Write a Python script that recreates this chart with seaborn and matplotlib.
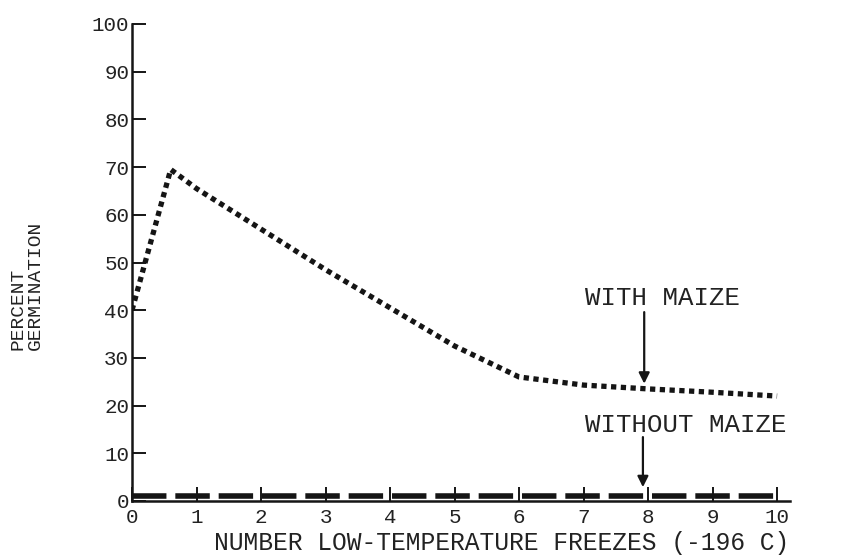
import matplotlib
matplotlib.use("Agg")
import matplotlib.pyplot as plt
import seaborn as sns
import pandas as pd

# Germination after repeated freezes in liquid nitrogen
freezes_with = [0, 0.6, 1, 2, 3, 4, 5, 6, 7, 8, 9, 10]
germ_with = [40, 69.5, 65.5, 57, 48.5, 40.5, 32.5, 26, 24.3, 23.5, 22.8, 22]

freezes_without = [0, 1, 2, 3, 4, 5, 6, 7, 8, 9, 10]
germ_without = [1, 1, 1, 1, 1, 1, 1, 1, 1, 1, 1]

x_ticks = list(range(0, 11))
y_ticks = list(range(0, 101, 10))

df_with = pd.DataFrame({"freezes": freezes_with, "germ": germ_with})
df_without = pd.DataFrame({"freezes": freezes_without, "germ": germ_without})

sns.set_style("ticks")
plt.rcParams["font.family"] = ["Liberation Mono", "DejaVu Sans Mono"]

fig = plt.figure(figsize=(8.55, 5.57), dpi=100)
ax = fig.add_axes([132 / 855, 1 - 501 / 557, (790 - 132) / 855, (501 - 24) / 557])

ink = "#151515"
text_ink = "#222222"
sns.lineplot(data=df_with, x="freezes", y="germ", ax=ax, color=ink,
             linewidth=3.8, linestyle=(0, (1.0, 0.85)), dash_capstyle="butt",
             estimator=None, sort=False)
sns.lineplot(data=df_without, x="freezes", y="germ", ax=ax, color=ink,
             linewidth=4.0, linestyle=(0, (6.2, 1.6)), dash_capstyle="butt",
             estimator=None, sort=False)

ax.set_xlim(0, 10.2)
ax.set_ylim(0, 100)
ax.set_xticks(x_ticks)
ax.set_yticks(y_ticks)
ax.set_xticklabels([str(v) for v in x_ticks])
ax.set_yticklabels([str(v) for v in y_ticks])
ax.tick_params(axis="both", direction="in", length=10, width=1.4, colors=ink,
               labelsize=15, labelcolor=text_ink)
ax.tick_params(axis="y", pad=2)
ax.tick_params(axis="x", pad=5)

for side in ("top", "right"):
    ax.spines[side].set_visible(False)
for side in ("left", "bottom"):
    ax.spines[side].set_linewidth(1.8)
    ax.spines[side].set_color(ink)

ax.set_xlabel("NUMBER LOW-TEMPERATURE FREEZES (-196 C)", fontsize=17.7,
              color=text_ink)
ax.xaxis.set_label_coords((502 - 132) / (790 - 132), -(531 - 501) / (501 - 24))
ax.set_ylabel("")

fig.text(27 / 855, 1 - 350 / 557, "PERCENT\nGERMINATION", rotation=90,
         ha="center", va="bottom", multialignment="left", fontsize=14,
         color=text_ink, linespacing=1.0)

ax.text(7.02, 42.6, "WITH MAIZE", ha="left", va="center", fontsize=18.5,
        color=text_ink)
ax.annotate("", xy=(7.94, 24.6), xytext=(7.94, 39.6),
            arrowprops=dict(arrowstyle="-|>", color=ink, lw=1.6,
                            mutation_scale=16, shrinkA=0, shrinkB=0))

ax.text(7.02, 15.9, "WITHOUT MAIZE", ha="left", va="center", fontsize=18.5,
        color=text_ink)
ax.annotate("", xy=(7.92, 2.9), xytext=(7.92, 13.4),
            arrowprops=dict(arrowstyle="-|>", color=ink, lw=1.6,
                            mutation_scale=16, shrinkA=0, shrinkB=0))

if ax.get_legend() is not None:
    ax.get_legend().remove()

fig.savefig("out.png", dpi=100, facecolor="white")
